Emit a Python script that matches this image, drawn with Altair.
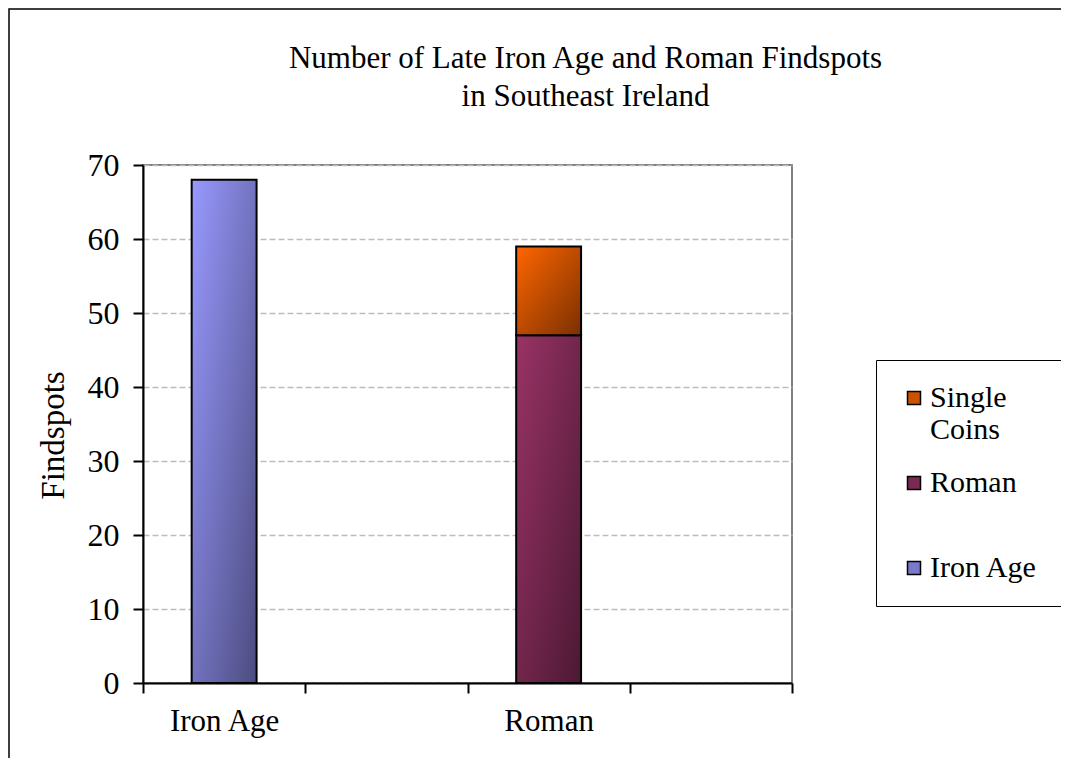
import altair as alt
import pandas as pd

# ---- data ----
periods = ["Iron Age", "Roman", "Roman"]
series = ["Iron Age", "Roman", "Single Coins"]
counts = [68, 47, 12]

axis_slots = ["Iron Age", "gap1", "Roman", "gap2"]
legend_order = ["Single Coins", "Roman", "Iron Age"]
legend_colors = ["#cc5200", "#7a2952", "#7a7acc"]
grad_light = {"Iron Age": "#9999ff", "Roman": "#993366", "Single Coins": "#ff6600"}
grad_dark = {"Iron Age": "#4c4c80", "Roman": "#4c1933", "Single Coins": "#7a3000"}
y_ticks = [0, 10, 20, 30, 40, 50, 60, 70]
title_lines = ["Number of Late Iron Age and Roman Findspots", "in Southeast Ireland"]

df = pd.DataFrame({"period": periods, "series": series, "count": counts})
df["top"] = df.groupby("period")["count"].cumsum()
df["base"] = df["top"] - df["count"]

FONT = "Liberation Serif"
W, H = 649, 518

x_enc = alt.X(
    "period:N",
    scale=alt.Scale(domain=axis_slots, paddingInner=0, paddingOuter=0),
    axis=alt.Axis(
        title=None,
        labelAngle=0,
        labelExpr="indexof(['Iron Age','Roman'], datum.label) >= 0 ? datum.label : ''",
        tickBand="extent",
        tickSize=10,
        tickWidth=2,
        tickColor="black",
        domainColor="black",
        domainWidth=2,
        labelFontSize=31,
        labelPadding=13,
        labelColor="black",
        grid=False,
    ),
)
y_scale = alt.Scale(domain=[0, 70], nice=False)
y_axis = alt.Axis(
    values=y_ticks,
    title="Findspots",
    titleFontSize=33,
    titleFontWeight="normal",
    titleColor="black",
    titlePadding=17,
    titleY=270,
    labelFontSize=32,
    labelColor="black",
    labelPadding=14,
    tickSize=10,
    tickWidth=2,
    tickColor="black",
    domainColor="black",
    domainWidth=2,
    grid=True,
    gridColor="#bdbdbd",
    gridDash=[6, 3],
    gridWidth=1.5,
)

layers = []
# decorative outer frame of the chart area
frame = alt.Chart(pd.DataFrame({"f": [0]})).mark_rect(
    fill="transparent", stroke="black", strokeWidth=1.5, clip=False
).encode(
    x=alt.value(-134), x2=alt.value(W + 300), y=alt.value(-156), y2=alt.value(H + 120)
)
layers.append(frame)

for s in series:
    grad = alt.LinearGradient(
        gradient="linear",
        stops=[alt.GradientStop(color=grad_light[s], offset=0),
               alt.GradientStop(color=grad_dark[s], offset=1)],
        x1=0, y1=0, x2=1, y2=1,
    )
    layers.append(
        alt.Chart(df).transform_filter(alt.datum.series == s).mark_bar(
            fill=grad, stroke="black", strokeWidth=2, width=alt.RelativeBandSize(0.4)
        ).encode(x=x_enc, y=alt.Y("base:Q", scale=y_scale, axis=y_axis), y2="top:Q")
    )

legend_layer = alt.Chart(df).mark_bar(opacity=0, width=alt.RelativeBandSize(0.4)).encode(
    x=x_enc,
    y=alt.Y("base:Q", scale=y_scale, axis=y_axis),
    y2="top:Q",
    color=alt.Color(
        "series:N",
        scale=alt.Scale(domain=legend_order, range=legend_colors),
        legend=alt.Legend(
            title=None,
            orient="none",
            legendX=733,
            legendY=195,
            padding=23,
            rowPadding=23,
            strokeColor="black",
            symbolType="square",
            symbolSize=169,
            symbolStrokeColor="black",
            symbolStrokeWidth=1.5,
            symbolOpacity=1,
            labelFontSize=30,
            labelColor="black",
            labelOffset=1,
            labelLimit=300,
            labelExpr=(
                "datum.label == 'Single Coins' ? ['Single', 'Coins'] : "
                "datum.label == 'Roman' ? ['Roman', ' '] : datum.label"
            ),
        ),
    ),
)
layers.append(legend_layer)

chart = alt.layer(*layers).properties(
    width=W,
    height=H,
    autosize=alt.AutoSizeParams(type="none"),
    padding={"left": 135, "top": 157, "right": 269, "bottom": 75},
    title=alt.TitleParams(
        text=title_lines,
        font=FONT,
        fontSize=31,
        fontWeight="normal",
        color="black",
        anchor="middle",
        dx=118,
        dy=105,
        offset=0,
        lineHeight=38,
    ),
).configure(font=FONT).configure_view(stroke="#808080", strokeWidth=2)

chart.save("out.html", embed_options={"renderer": "svg", "actions": False})
